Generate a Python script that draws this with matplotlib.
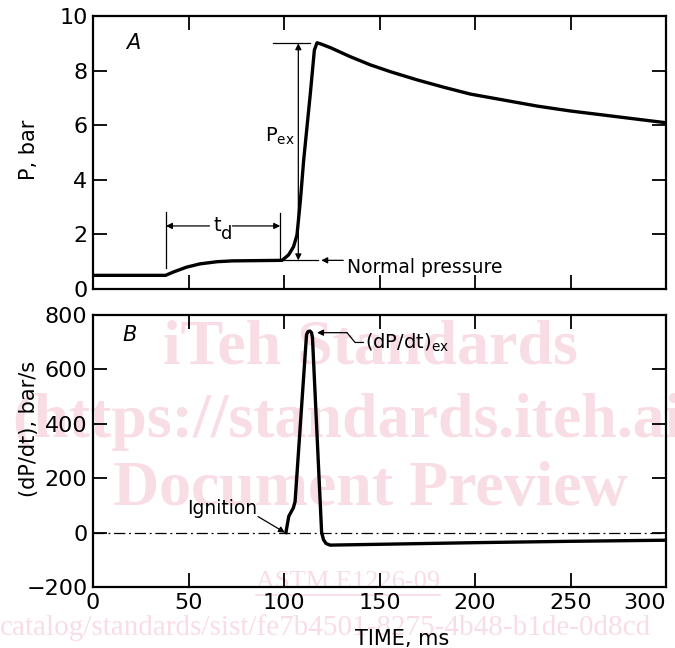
import matplotlib
matplotlib.use("Agg")
import matplotlib.pyplot as plt

# ---- data ----
time_p = [0, 38, 42, 49, 56, 65, 73, 99, 102.4, 105, 106.8, 108.6, 110.3, 113.8, 115.9, 117.3,
          119.5, 124.3, 134.7, 145.2, 155.7, 169.7, 183.7, 197.6, 215.1, 232.6, 250, 267.5, 284.9, 300]
pressure = [0.5, 0.5, 0.62, 0.8, 0.92, 1.0, 1.03, 1.05, 1.25, 1.55, 1.98, 3.26, 4.72, 7.17, 8.75, 9.02,
            8.97, 8.84, 8.51, 8.21, 7.96, 7.66, 7.39, 7.14, 6.92, 6.70, 6.52, 6.37, 6.22, 6.09]

time_r = [101, 102.5, 104.9, 105.8, 111.8, 112.6, 113.6, 114.4, 114.9, 119.7, 120.7, 122, 124.1,
          150, 200, 250, 300]
rate = [0, 60, 91, 114, 728, 739, 741, 735, 717, 0, -26, -40, -46,
        -43, -37, -32, -28]

x_ticks = [0, 50, 100, 150, 200, 250, 300]
p_ticks = [0, 2, 4, 6, 8, 10]
r_ticks = [-200, 0, 200, 400, 600, 800]

plt.rcParams['font.family'] = ['DejaVu Sans']

W, H = 675, 648
fig = plt.figure(figsize=(W / 100, H / 100), dpi=100)

def px_axes(x0, y0, x1, y1):
    return fig.add_axes([x0 / W, 1 - y1 / H, (x1 - x0) / W, (y1 - y0) / H])

axA = px_axes(93, 16, 666, 289)
axB = px_axes(93, 315, 666, 587)

wm = '#f9dde5'
wm_kw = dict(color=wm, family='Liberation Serif', zorder=-5)
fig.text(370 / W, 1 - 348 / H, 'iTeh Standards', ha='center', va='center', fontsize=46, weight='bold', **wm_kw)
fig.text(12 / W, 1 - 422 / H, '(https://standards.iteh.ai)', ha='left', va='center', fontsize=46, weight='bold', **wm_kw)
fig.text(370 / W, 1 - 490 / H, 'Document Preview', ha='center', va='center', fontsize=46, weight='bold', **wm_kw)
fig.text(348 / W, 1 - 582 / H, 'ASTM E1226-09', ha='center', va='center', fontsize=19, **wm_kw)
fig.add_artist(plt.Line2D([256 / W, 440 / W], [1 - 595 / H, 1 - 595 / H], color=wm, lw=1.2, zorder=-5))
fig.text(0, 1 - 628 / H, 'catalog/standards/sist/fe7b4501-8275-4b48-b1de-0d8cd', ha='left', va='center',
         fontsize=21, **wm_kw)

for ax in (axA, axB):
    ax.set_facecolor('none')
    ax.set_xlim(0, 300)
    ax.set_xticks(x_ticks)
    for s in ax.spines.values():
        s.set_linewidth(1.6)
    ax.tick_params(direction='in', length=10, width=1.3, top=True, right=True,
                   labelsize=16, pad=4)

# ---- panel A ----
axA.plot(time_p, pressure, color='black', lw=2.4, solid_joinstyle='round')
axA.set_ylim(0, 10)
axA.set_yticks(p_ticks)
axA.tick_params(labelbottom=False)
axA.set_ylabel('P, bar', fontsize=15)
axA.yaxis.set_label_coords(-0.095, 0.51)
axA.text(21, 9.0, 'A', fontsize=15, style='italic', ha='center', va='center')

thin = dict(color='black', lw=0.9)
arr = dict(arrowstyle='-|>', color='black', lw=0.9, mutation_scale=9, shrinkA=0, shrinkB=0)
# t_d
axA.plot([38.2, 38.2], [0.77, 2.82], **thin)
axA.plot([98, 98], [1.14, 2.78], **thin)
axA.annotate('', xy=(38.2, 2.31), xytext=(61, 2.31), arrowprops=arr)
axA.annotate('', xy=(98, 2.31), xytext=(73, 2.31), arrowprops=arr)
axA.text(63, 2.31, 't', fontsize=14, ha='left', va='center')
axA.text(67.2, 2.0, 'd', fontsize=13, ha='left', va='center')
# P_ex
axA.plot([94.4, 113.8], [9.0, 9.0], **thin)
axA.annotate('', xy=(107.5, 9.0), xytext=(107.5, 1.05),
             arrowprops=dict(arrowstyle='<|-|>', color='black', lw=0.9, mutation_scale=9, shrinkA=0, shrinkB=0))
axA.text(106, 5.6, r'P$_{\mathregular{ex}}$', fontsize=14, ha='right', va='center')
# normal pressure
axA.plot([100, 118], [1.05, 1.05], **thin)
axA.annotate('', xy=(119.5, 1.05), xytext=(131, 1.05), arrowprops=arr)
axA.text(133, 0.6, 'Normal pressure', fontsize=13.5, ha='left', va='baseline')

# ---- panel B ----
axB.axhline(0, color='black', lw=0.9, ls=(0, (9, 3, 1.5, 3)))
axB.plot(time_r, rate, color='black', lw=2.4, solid_joinstyle='round')
axB.set_ylim(-200, 800)
axB.set_yticks(r_ticks)
axB.set_ylabel('(dP/dt), bar/s', fontsize=15)
axB.yaxis.set_label_coords(-0.095, 0.58)
axB.set_xlabel('TIME, ms', fontsize=15)
axB.xaxis.set_label_coords(0.54, -0.155)
axB.text(19.4, 728, 'B', fontsize=15, style='italic', ha='center', va='center')
axB.get_xticklabels()[-1].set_horizontalalignment('right')

axB.plot([133, 137.2, 141.5], [735, 699, 699], **thin)
axB.annotate('', xy=(117.3, 735), xytext=(133, 735), arrowprops=arr)
axB.text(142.5, 699, r'(dP/dt)$_{\mathregular{ex}}$', fontsize=14, ha='left', va='center')

axB.annotate('', xy=(100.5, 0), xytext=(86.4, 59), arrowprops=arr)
axB.text(86, 88, 'Ignition', fontsize=13.5, ha='right', va='center')

fig.savefig('out.png', dpi=100)
